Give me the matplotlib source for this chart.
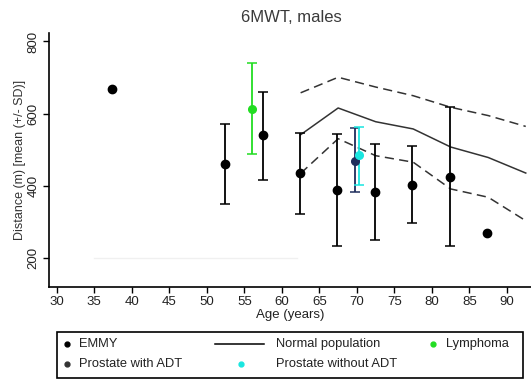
import matplotlib
matplotlib.use("Agg")
import matplotlib.pyplot as plt
from matplotlib.patches import Rectangle

plt.rcParams['font.family'] = ['Liberation Sans', 'DejaVu Sans']

# EMMY groups (mean, SD bounds)
emmy_age = [37.4, 52.4, 57.45, 62.4, 67.4, 72.4, 77.35, 82.4, 87.4]
emmy_mean = [669, 460, 541, 435, 390, 383, 403, 426, 271]
emmy_low = [None, 350, 418, 322, 235, 251, 297, 235, None]
emmy_high = [None, 573, 661, 547, 543, 515, 511, 619, None]

# Prostate with ADT
adt_age = [69.7]
adt_mean = [470]
adt_low = [383]
adt_high = [561]

# Prostate without ADT
noadt_age = [70.3]
noadt_mean = [485]
noadt_low = [403]
noadt_high = [564]

# Lymphoma
lym_age = [56.0]
lym_mean = [612]
lym_low = [488]
lym_high = [740]

# Normal population
norm_age = [62.5, 67.5, 72.5, 77.5, 82.5, 87.5, 92.5]
norm_mean = [542, 616, 578, 558, 508, 479, 436]
norm_upper = [658, 701, 674, 650, 618, 595, 565]
norm_lower = [435, 531, 484, 466, 392, 369, 304]

x_ticks = list(range(30, 95, 5))
y_ticks = [200, 400, 600, 800]

W, H = 531, 379
fig = plt.figure(figsize=(W / 100, H / 100), dpi=100)
ax = fig.add_axes([48.5 / W, 1 - 286.7 / H, 1 - 48.5 / W, (286.7 - 33) / H])

# faint line
ax.plot([35, 62], [200, 200], color='#f0f0f0', lw=1, zorder=0)

ax.plot(norm_age, norm_mean, color='#333333', lw=1.1, zorder=2)
ax.plot(norm_age, norm_upper, color='#333333', lw=1.1, ls=(0, (6, 3.5)), zorder=2)
ax.plot(norm_age, norm_lower, color='#333333', lw=1.1, ls=(0, (6, 3.5)), zorder=2)

for a, m, lo, hi in zip(emmy_age, emmy_mean, emmy_low, emmy_high):
    if lo is not None:
        ax.errorbar([a], [m], yerr=[[m - lo], [hi - m]], fmt='o', color='black',
                    ms=6, lw=1.3, capsize=3.5, capthick=1.1, zorder=4)
    else:
        ax.plot([a], [m], 'o', color='black', ms=6, zorder=4)

for ages, means, lows, highs, col in [
        (adt_age, adt_mean, adt_low, adt_high, '#1f2d5c'),
        (noadt_age, noadt_mean, noadt_low, noadt_high, '#19e6e0'),
        (lym_age, lym_mean, lym_low, lym_high, '#22dd22')]:
    ax.errorbar(ages, means,
                yerr=[[m - l for m, l in zip(means, lows)], [h - m for m, h in zip(means, highs)]],
                fmt='o', color=col, ms=5.5, lw=1.3, capsize=3.5, capthick=1.1, zorder=5)

ax.set_xlim(28.9, 93.2)
ax.set_ylim(121.5, 823.5)
ax.set_xticks(x_ticks)
ax.set_yticks(y_ticks)
ax.tick_params(axis='both', direction='out', length=4, width=1, labelsize=9.5,
               colors='black', labelcolor='#222222', pad=2.5)
for lab in ax.get_yticklabels():
    lab.set_rotation(90)
    lab.set_va('center')
for s in ['top', 'right']:
    ax.spines[s].set_visible(False)
for s in ['left', 'bottom']:
    ax.spines[s].set_linewidth(1.2)
ax.set_xlabel('Age (years)', fontsize=9.5, color='#222222', labelpad=1)
ax.set_ylabel('Distance (m) [mean (+/- SD)]', fontsize=9, color='#333333', labelpad=1)
fig.text(291 / W, 1 - 17 / H, '6MWT, males', ha='center', va='center',
         fontsize=12, color='#3a3a3a')

# legend (pixel coordinates overlay)
lg = fig.add_axes([0, 0, 1, 1])
lg.set_xlim(0, W)
lg.set_ylim(H, 0)
lg.axis('off')
lg.add_patch(Rectangle((57, 332), 466, 45.5, fill=False, ec='black', lw=1.2))
r1, r2 = 344, 364
fs = 9.3
lg.plot([67], [r1], 'o', color='black', ms=3.5)
lg.text(79, r1, 'EMMY', va='center', fontsize=fs, color='#222222')
lg.plot([67], [r2], 'o', color='#333333', ms=3.5)
lg.text(79, r2, 'Prostate with ADT', va='center', fontsize=fs, color='#222222')
lg.plot([215, 264], [r1, r1], color='black', lw=1.1)
lg.text(276, r1, 'Normal population', va='center', fontsize=fs, color='#222222')
lg.plot([240.5], [r2], 'o', color='#19e6e0', ms=3.5)
lg.text(276, r2, 'Prostate without ADT', va='center', fontsize=fs, color='#222222')
lg.plot([432.5], [r1], 'o', color='#22dd22', ms=3.5)
lg.text(446, r1, 'Lymphoma', va='center', fontsize=fs, color='#222222')

fig.savefig('out.png', dpi=100)
